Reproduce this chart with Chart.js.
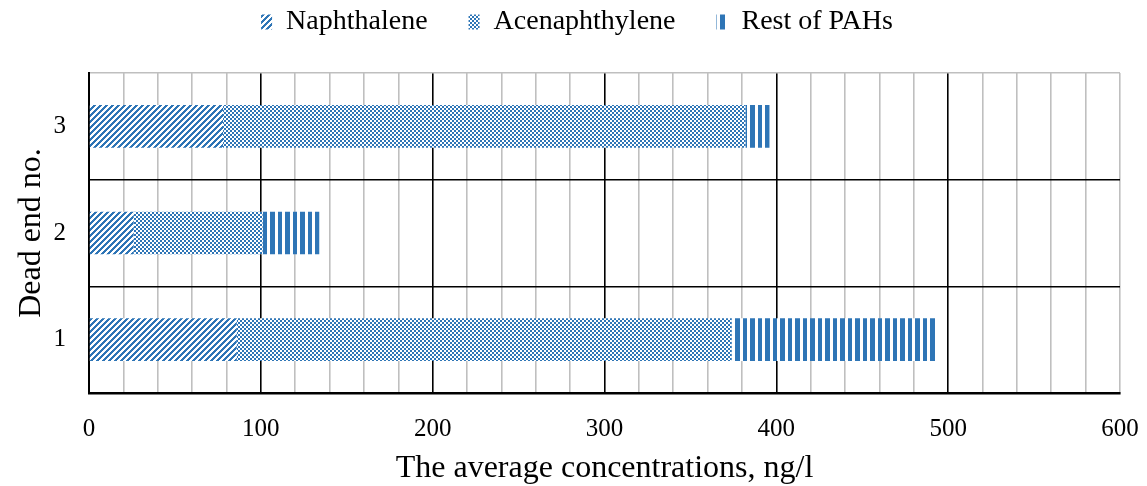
<!DOCTYPE html>
<html>
<head>
<meta charset="utf-8">
<script src="https://cdn.jsdelivr.net/npm/chart.js@4"></script>
<style>
  html, body { margin: 0; padding: 0; background: #fff; }
  #wrap { width: 1147px; height: 486px; position: relative; }
</style>
</head>
<body>
<div id="wrap"><canvas id="chart"></canvas></div>
<script>
// Dead end numbers (category axis, drawn from bottom to top)
const deadEnds = ['1', '2', '3'];
// average concentrations, ng/l
const naphthalene = [86, 26, 78];
const acenaphthylene = [288, 75, 304];
const restOfPAHs = [120, 33, 14];

const seriesNames = ['Naphthalene', 'Acenaphthylene', 'Rest of PAHs'];

const BLUE = '#2E75B6';

// small helper: builds a canvas pattern, pixel by pixel
function makePattern(w, h, isBlue) {
    const c = document.createElement('canvas');
    c.width = w;
    c.height = h;
    const g = c.getContext('2d');
    g.fillStyle = '#fff';
    g.fillRect(0, 0, w, h);
    g.fillStyle = BLUE;
    for (let x = 0; x < w; x++) {
        for (let y = 0; y < h; y++) {
            if (isBlue(x, y)) g.fillRect(x, y, 1, 1);
        }
    }
    return document.getElementById('chart').getContext('2d').createPattern(c, 'repeat');
}

// wide upward diagonal
const diagPattern = makePattern(6, 6, (x, y) => (x + y) % 6 < 3);
// small checker
const checkPattern = makePattern(4, 4, (x, y) => (Math.floor(x / 2) + Math.floor(y / 2)) % 2 === 0);
// vertical stripes
const vertPattern = makePattern(15, 2, (x) => x < 5 || (x >= 8 && x < 12));

const FONT = "'Liberation Serif', 'Times New Roman', serif";

// force legend block height so the plot starts at the same place as the reference
const legendHeightPlugin = {
    id: 'legendHeight',
    beforeInit(chart) {
        const origFit = chart.legend.fit;
        chart.legend.fit = function () {
            origFit.bind(chart.legend)();
            this.height = 73;
        };
    },
    afterLayout(chart) {
        // labels.padding also pushes the row down, pull it back up
        chart.legend.top -= 33;
        chart.legend.bottom -= 33;
        chart.legend.left += 17;
        chart.legend.right += 17;
    }
};

const config = {
    type: 'bar',
    data: {
        labels: deadEnds,
        datasets: [
            { label: seriesNames[0], data: naphthalene, backgroundColor: diagPattern, borderWidth: 0 },
            { label: seriesNames[1], data: acenaphthylene, backgroundColor: checkPattern, borderWidth: 0 },
            { label: seriesNames[2], data: restOfPAHs, backgroundColor: vertPattern, borderWidth: 0 }
        ]
    },
    options: {
        indexAxis: 'y',
        responsive: true,
        maintainAspectRatio: false,
        animation: false,
        barPercentage: 0.4,
        categoryPercentage: 1.0,
        layout: { padding: { left: 0, right: 27, top: 0, bottom: 0 } },
        plugins: {
            legend: {
                position: 'top',
                labels: {
                    font: { family: FONT, size: 28 },
                    color: '#000',
                    boxWidth: 11,
                    boxHeight: 15,
                    padding: 41
                }
            },
            tooltip: { enabled: false }
        },
        scales: {
            x: {
                stacked: true,
                min: 0,
                max: 600,
                ticks: {
                    stepSize: 20,
                    autoSkip: false,
                    maxRotation: 0,
                    padding: 21,
                    color: '#000',
                    font: { family: FONT, size: 25 },
                    callback: function (v) { return v % 100 === 0 ? v : ''; }
                },
                grid: {
                    drawTicks: false,
                    color: function (ctx) {
                        const v = ctx.tick ? ctx.tick.value : -1;
                        return (v % 100 === 0 && v < 600) ? '#000' : '#bfbfbf';
                    },
                    lineWidth: 1.6
                },
                border: { color: '#000', width: 2.5 },
                title: {
                    display: true,
                    text: 'The average concentrations, ng/l',
                    color: '#000',
                    font: { family: FONT, size: 32, lineHeight: 1.1 },
                    padding: { top: 4, bottom: 0 }
                },
                afterFit: function (scale) {
                    scale.height = 93;
                    scale.paddingLeft = 0;
                    scale.paddingRight = 0;
                }
            },
            y: {
                stacked: true,
                reverse: true,
                ticks: {
                    padding: 23,
                    color: '#000',
                    font: { family: FONT, size: 25 }
                },
                grid: {
                    drawTicks: false,
                    offset: true,
                    color: function (ctx) { return ctx.tick ? '#000' : '#bfbfbf'; },
                    lineWidth: 1.6
                },
                border: { color: '#000', width: 2 },
                title: {
                    display: true,
                    text: 'Dead end no.',
                    color: '#000',
                    font: { family: FONT, size: 32 },
                    padding: { top: 12, bottom: 4 }
                },
                afterFit: function (scale) { scale.width = 89; }
            }
        }
    },
    plugins: [legendHeightPlugin]
};

new Chart(document.getElementById('chart'), config);
</script>
</body>
</html>
